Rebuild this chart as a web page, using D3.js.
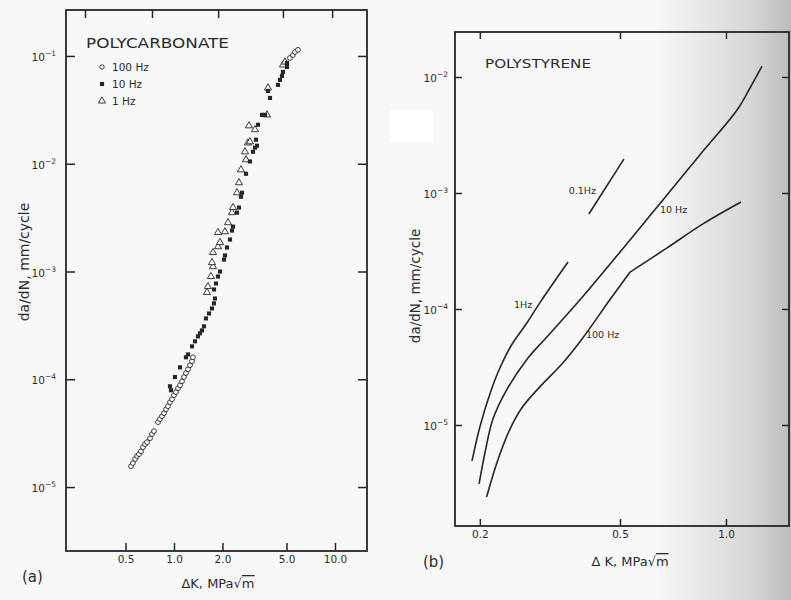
<!DOCTYPE html>
<html>
<head>
<meta charset="utf-8">
<script src="https://cdn.jsdelivr.net/npm/d3@7"></script>
<style>
  body { margin: 0; background: #f8f8f8; }
  svg text { font-family: "DejaVu Sans", sans-serif; fill: #2b2b2b; }
</style>
</head>
<body>
<div id="fig"></div>
<script>
// ---- panel (a) polycarbonate, [dK (MPa sqrt m), da/dN (mm/cycle)]
var pc100Hz = [
  [0.541,1.56e-5],[0.556,1.67e-5],[0.573,1.82e-5],[0.589,1.94e-5],[0.606,2.02e-5],
  [0.624,2.15e-5],[0.642,2.34e-5],[0.661,2.50e-5],[0.680,2.61e-5],[0.710,2.84e-5],
  [0.730,3.10e-5],[0.751,3.30e-5],[0.796,4.00e-5],[0.818,4.27e-5],[0.842,4.54e-5],
  [0.867,4.84e-5],[0.892,5.27e-5],[0.918,5.62e-5],[0.944,6.12e-5],[0.972,6.53e-5],
  [1.000,7.11e-5],[1.029,7.59e-5],[1.059,8.26e-5],[1.090,8.79e-5],[1.121,9.57e-5],
  [1.154,1.05e-4],[1.187,1.14e-4],[1.222,1.24e-4],[1.257,1.35e-4],[1.294,1.47e-4],
  [1.312,1.60e-4],
  [5.25,9.58e-2],[5.48,1.02e-1],[5.64,1.09e-1],[5.89,1.14e-1]
];
var pc10Hz = [
  [0.944,8.61e-5],[0.958,7.91e-5],[1.014,1.05e-4],[1.090,1.29e-4],[1.187,1.60e-4],
  [1.222,1.70e-4],[1.294,2.02e-4],[1.350,2.25e-4],[1.409,2.50e-4],[1.450,2.67e-4],
  [1.492,2.84e-4],[1.536,3.10e-4],[1.580,3.67e-4],[1.650,4.08e-4],[1.722,4.54e-4],
  [1.772,5.06e-4],[1.797,5.62e-4],[1.772,6.81e-4],[1.823,7.74e-4],[1.876,8.99e-4],
  [1.931,1.00e-3],[2.045,1.29e-3],[2.074,1.41e-3],[2.134,1.67e-3],[2.228,1.98e-3],
  [2.292,2.40e-3],[2.326,2.61e-3],[2.462,3.52e-3],[2.533,3.92e-3],[2.607,4.94e-3],
  [2.645,5.38e-3],[2.801,8.07e-3],[2.965,1.05e-2],[3.095,1.29e-2],[3.185,1.41e-2],
  [3.278,1.47e-2],[3.231,1.67e-2],[3.325,2.30e-2],[3.521,2.84e-2],[3.675,2.84e-2],
  [3.947,4.08e-2],[3.836,4.74e-2],[4.426,5.39e-2],[4.553,6.00e-2],[4.683,6.53e-2],
  [4.753,7.11e-2],[5.034,7.91e-2],[5.034,8.61e-2]
];
var pc1Hz = [
  [1.603,6.40e-4],[1.626,7.26e-4],[1.697,8.99e-4],[1.747,1.11e-3],[1.722,1.21e-3],
  [1.747,1.50e-3],[1.876,1.70e-3],[1.931,1.86e-3],[1.876,2.30e-3],[2.074,2.34e-3],
  [2.165,2.84e-3],[2.292,3.52e-3],[2.326,3.92e-3],[2.462,5.38e-3],[2.533,6.67e-3],
  [2.607,8.79e-3],[2.801,1.09e-2],[2.761,1.29e-2],[2.882,1.56e-2],[2.965,1.60e-2],
  [2.923,2.25e-2],[3.185,2.07e-2],[3.782,2.84e-2],[3.836,5.06e-2],[4.753,8.26e-2],
  [4.892,8.79e-2]
];
var pcXTicks = [0.5, 1, 2, 5, 10];
var pcXLabels = ["0.5", "1.0", "2.0", "5.0", "10.0"];
var pcTopTicks = [0.28, 0.73, 1.88, 4.75, 9.6];
var pcYTicks = [1e-5, 1e-4, 1e-3, 1e-2, 1e-1];
var pcLegend = ["100 Hz", "10 Hz", "1 Hz"];

// ---- panel (b) polystyrene curves
var ps01Hz = [[0.408,6.59e-4],[0.513,1.96e-3]];
var ps1Hz = [[0.190,4.90e-6],[0.200,9.62e-6],[0.214,1.89e-5],[0.228,3.10e-5],
  [0.247,4.99e-5],[0.272,7.57e-5],[0.296,1.13e-4],[0.356,2.54e-4]];
var ps10Hz = [[0.199,3.10e-6],[0.207,5.85e-6],[0.218,1.13e-5],[0.239,2.04e-5],
  [0.274,3.78e-5],[0.310,5.74e-5],[0.385,1.20e-4],[0.534,3.94e-4],[0.662,8.71e-4],
  [0.843,2.13e-3],[1.075,5.19e-3],[1.170,8.04e-3],[1.266,1.24e-2]];
var ps100Hz = [[0.209,2.39e-6],[0.224,4.80e-6],[0.243,9.06e-6],[0.263,1.40e-5],
  [0.296,2.13e-5],[0.344,3.42e-5],[0.392,5.62e-5],[0.468,1.20e-4],[0.534,2.08e-4],
  [0.680,3.36e-4],[0.860,5.41e-4],[1.103,8.36e-4]];
var ps100HzKnee = 8;   // index of the sharp bend in the 100 Hz curve
var psXTicks = [0.2, 0.5, 1.0];
var psXLabels = ["0.2", "0.5", "1.0"];
var psYTicks = [1e-5, 1e-4, 1e-3, 1e-2];

var W = 791, H = 600, ink = "#262626";

var svg = d3.select("#fig").append("svg")
    .attr("width", W).attr("height", H);

var defs = svg.append("defs");
var grad = defs.append("linearGradient").attr("id", "shade")
    .attr("x1", 0).attr("x2", 1).attr("y1", 0).attr("y2", 0);
grad.append("stop").attr("offset", "0%").attr("stop-color", "#c0c0c0").attr("stop-opacity", 0);
grad.append("stop").attr("offset", "70%").attr("stop-color", "#c0c0c0").attr("stop-opacity", 0.6);
grad.append("stop").attr("offset", "100%").attr("stop-color", "#bcbcbc").attr("stop-opacity", 1);

svg.append("rect").attr("width", W).attr("height", H).attr("fill", "#f8f8f8");
svg.append("rect").attr("x", 655).attr("width", W - 655).attr("height", H).attr("fill", "url(#shade)");
// white patch of the scan left of panel (b)
svg.append("rect").attr("x", 390).attr("y", 110).attr("width", 43).attr("height", 32).attr("fill", "#ffffff");

function logTickLabel(sel, exp) {
  sel.append("tspan").text("10");
  sel.append("tspan").text("\u2212" + exp).attr("font-size", 7.5).attr("dy", -5);
}

function noDomain(g) { g.select(".domain").remove(); }

// ---------- panel (a)
var A = {left: 66, right: 367, top: 10, bottom: 551};
var xa = d3.scaleLog().domain([0.2134, 15.81]).range([A.left, A.right]);
var ya = d3.scaleLog().domain([2.55e-6, 0.267]).range([A.bottom, A.top]);
var ga = svg.append("g");

ga.append("rect").attr("x", A.left).attr("y", A.top)
  .attr("width", A.right - A.left).attr("height", A.bottom - A.top)
  .attr("fill", "none").attr("stroke", ink).attr("stroke-width", 1.8);

ga.append("g").attr("transform", "translate(0," + A.bottom + ")")
  .call(d3.axisBottom(xa).tickValues(pcXTicks).tickSize(-8).tickSizeOuter(0).tickPadding(5)
        .tickFormat(function(d, i) { return pcXLabels[i]; }))
  .call(noDomain);
ga.append("g").attr("transform", "translate(0," + A.top + ")")
  .call(d3.axisTop(xa).tickValues(pcTopTicks).tickSize(-8).tickSizeOuter(0).tickFormat(""))
  .call(noDomain);
ga.append("g").attr("transform", "translate(" + A.left + ",0)")
  .call(d3.axisLeft(ya).tickValues(pcYTicks).tickSize(-9).tickSizeOuter(0).tickFormat(""))
  .call(noDomain);
ga.append("g").attr("transform", "translate(" + A.right + ",0)")
  .call(d3.axisRight(ya).tickValues(pcYTicks).tickSize(-9).tickSizeOuter(0).tickFormat(""))
  .call(noDomain);

svg.selectAll(".tick line").attr("stroke", ink).attr("stroke-width", 1.5);
svg.selectAll(".tick text").attr("font-size", 10.5).attr("fill", ink)
  .attr("font-family", "DejaVu Sans");

ga.selectAll(".ylab").data(pcYTicks).enter().append("text")
  .attr("class", "ylab")
  .attr("x", A.left - 10).attr("y", function(d) { return ya(d) + 5; })
  .attr("text-anchor", "end").attr("font-size", 10.5)
  .each(function(d) { logTickLabel(d3.select(this), -Math.round(Math.log10(d))); });

ga.append("text").attr("x", 86).attr("y", 48)
  .attr("font-size", 14).attr("textLength", 143).attr("lengthAdjust", "spacingAndGlyphs")
  .text("POLYCARBONATE");

var sq = d3.symbol(d3.symbolSquare).size(17);
var tri = d3.symbol(d3.symbolTriangle).size(22);

ga.append("g").selectAll("circle").data(pc100Hz).enter().append("circle")
  .attr("cx", function(d) { return xa(d[0]); })
  .attr("cy", function(d) { return ya(d[1]); })
  .attr("r", 2.4).attr("fill", "#fbfbfb").attr("stroke", ink).attr("stroke-width", 0.9);
ga.append("g").selectAll("path").data(pc1Hz).enter().append("path")
  .attr("d", tri)
  .attr("transform", function(d) { return "translate(" + xa(d[0]) + "," + ya(d[1]) + ")"; })
  .attr("fill", "#fbfbfb").attr("stroke", ink).attr("stroke-width", 0.9);
ga.append("g").selectAll("path").data(pc10Hz).enter().append("path")
  .attr("d", sq)
  .attr("transform", function(d) { return "translate(" + xa(d[0]) + "," + ya(d[1]) + ")"; })
  .attr("fill", ink);

// legend
var leg = ga.append("g").attr("transform", "translate(102,67)");
leg.selectAll("text").data(pcLegend).enter().append("text")
  .attr("x", 10).attr("y", function(d, i) { return i * 17 + 4; })
  .attr("font-size", 10.5).text(function(d) { return d; });
leg.append("circle").attr("r", 2.2).attr("fill", "none").attr("stroke", ink).attr("stroke-width", 0.9);
leg.append("path").attr("d", sq).attr("transform", "translate(0,17)").attr("fill", ink);
leg.append("path").attr("d", tri).attr("transform", "translate(0,34)")
  .attr("fill", "none").attr("stroke", ink).attr("stroke-width", 0.9);

ga.append("text").attr("transform", "translate(29,262) rotate(-90)")
  .attr("text-anchor", "middle").attr("font-size", 14)
  .text("da/dN, mm/cycle");

var xtA = ga.append("text").attr("x", 218).attr("y", 588)
  .attr("text-anchor", "middle").attr("font-size", 13);
xtA.append("tspan").text("\u0394K, MPa\u221A");
xtA.append("tspan").text("m").style("text-decoration", "overline");

ga.append("text").attr("x", 22).attr("y", 582).attr("font-size", 15)
  .attr("font-family", "DejaVu Serif").text("(a)");

// ---------- panel (b)
var B = {left: 455, right: 789, top: 32, bottom: 526};
var xb = d3.scaleLog().domain([0.170, 1.51]).range([B.left, B.right]);
var yb = d3.scaleLog().domain([1.346e-6, 2.443e-2]).range([B.bottom, B.top]);
var gb = svg.append("g");

gb.append("rect").attr("x", B.left).attr("y", B.top)
  .attr("width", B.right - B.left).attr("height", B.bottom - B.top)
  .attr("fill", "none").attr("stroke", ink).attr("stroke-width", 1.8);

gb.append("g").attr("transform", "translate(0," + B.bottom + ")")
  .call(d3.axisBottom(xb).tickValues(psXTicks).tickSize(-7).tickSizeOuter(0).tickPadding(5)
        .tickFormat(function(d, i) { return psXLabels[i]; }))
  .call(noDomain);
gb.append("g").attr("transform", "translate(0," + B.top + ")")
  .call(d3.axisTop(xb).tickValues(psXTicks).tickSize(-7).tickSizeOuter(0).tickFormat(""))
  .call(noDomain);
gb.append("g").attr("transform", "translate(" + B.left + ",0)")
  .call(d3.axisLeft(yb).tickValues(psYTicks).tickSize(-7).tickSizeOuter(0).tickFormat(""))
  .call(noDomain);
gb.append("g").attr("transform", "translate(" + B.right + ",0)")
  .call(d3.axisRight(yb).tickValues(psYTicks).tickSize(-7).tickSizeOuter(0).tickFormat(""))
  .call(noDomain);

gb.selectAll(".tick line").attr("stroke", ink).attr("stroke-width", 1.5);
gb.selectAll(".tick text").attr("font-size", 10.5).attr("fill", ink)
  .attr("font-family", "DejaVu Sans");

gb.selectAll(".ylab").data(psYTicks).enter().append("text")
  .attr("class", "ylab")
  .attr("x", B.left - 7).attr("y", function(d) { return yb(d) + 5; })
  .attr("text-anchor", "end").attr("font-size", 10.5)
  .each(function(d) { logTickLabel(d3.select(this), -Math.round(Math.log10(d))); });

gb.append("text").attr("x", 485).attr("y", 68)
  .attr("font-size", 13).attr("textLength", 106).attr("lengthAdjust", "spacingAndGlyphs")
  .text("POLYSTYRENE");

var smooth = d3.line()
  .x(function(d) { return xb(d[0]); })
  .y(function(d) { return yb(d[1]); })
  .curve(d3.curveCatmullRom.alpha(0.5));
var straight = d3.line()
  .x(function(d) { return xb(d[0]); })
  .y(function(d) { return yb(d[1]); });

var curves = [
  {d: ps01Hz, gen: straight},
  {d: ps1Hz, gen: smooth},
  {d: ps10Hz, gen: smooth},
  {d: ps100Hz.slice(0, ps100HzKnee + 1), gen: smooth},
  {d: ps100Hz.slice(ps100HzKnee), gen: smooth}
];
gb.selectAll(".curve").data(curves).enter().append("path")
  .attr("class", "curve")
  .attr("d", function(c) { return c.gen(c.d); })
  .attr("fill", "none").attr("stroke", ink).attr("stroke-width", 1.6)
  .attr("stroke-linejoin", "round");

var curveLabels = [
  {t: "0.1Hz", x: 596, y: 194, a: "end"},
  {t: "1Hz",   x: 514, y: 308, a: "start"},
  {t: "10 Hz", x: 660, y: 213, a: "start"},
  {t: "100 Hz", x: 586, y: 338, a: "start"}
];
gb.selectAll(".clab").data(curveLabels).enter().append("text")
  .attr("class", "clab")
  .attr("x", function(d) { return d.x; }).attr("y", function(d) { return d.y; })
  .attr("text-anchor", function(d) { return d.a; })
  .attr("font-size", 9.5).text(function(d) { return d.t; });

gb.append("text").attr("transform", "translate(420,286) rotate(-90)")
  .attr("text-anchor", "middle").attr("font-size", 13.5)
  .text("da/dN, mm/cycle");

var xtB = gb.append("text").attr("x", 630).attr("y", 566)
  .attr("text-anchor", "middle").attr("font-size", 13);
xtB.append("tspan").text("\u0394 K, MPa\u221A");
xtB.append("tspan").text("m").style("text-decoration", "overline");

gb.append("text").attr("x", 423).attr("y", 567).attr("font-size", 15)
  .attr("font-family", "DejaVu Serif").text("(b)");
</script>
</body>
</html>
